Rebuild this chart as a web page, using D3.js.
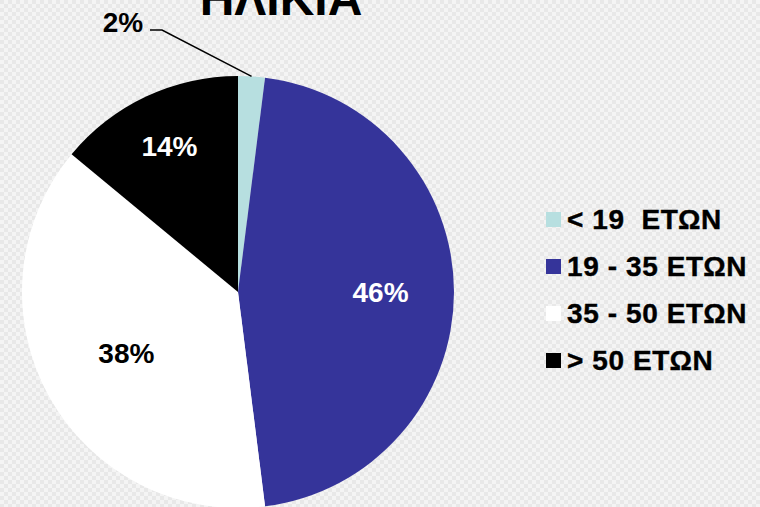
<!DOCTYPE html>
<html>
<head>
<meta charset="utf-8">
<script src="https://cdn.jsdelivr.net/npm/d3@7"></script>
<style>
  body { margin: 0; padding: 0; overflow: hidden; }
  svg { display: block; font-family: "Liberation Sans", Arial, sans-serif; font-weight: bold; }
</style>
</head>
<body>
<div id="chart"></div>
<script>
// data
var categories = ["< 19\u00a0 ΕΤΩΝ", "19 - 35 ΕΤΩΝ", "35 - 50 ΕΤΩΝ", "> 50 ΕΤΩΝ"];
var values = [2, 46, 38, 14];
var colors = ["#b7dfe0", "#35349a", "#ffffff", "#000000"];
var labelColors = ["#000000", "#ffffff", "#000000", "#ffffff"];
var title = "ΗΛΙΚΙΑ";

// layout: how far out (fraction of radius) each inside label sits
var labelRadius = [0, 0.66, 0.59, 0.745];

var width = 760, height = 507;
var cx = 238, cy = 292, radius = 216;

var svg = d3.select("#chart").append("svg")
    .attr("width", width)
    .attr("height", height);

// checkered background
var pat = svg.append("defs").append("pattern")
    .attr("id", "checker")
    .attr("width", 8).attr("height", 8)
    .attr("patternUnits", "userSpaceOnUse");
pat.append("rect").attr("width", 8).attr("height", 8).attr("fill", "#f4f4f4");
pat.append("rect").attr("width", 4).attr("height", 4).attr("fill", "#e8e8e8");
pat.append("rect").attr("x", 4).attr("y", 4).attr("width", 4).attr("height", 4).attr("fill", "#e8e8e8");

svg.append("rect")
    .attr("width", width).attr("height", height)
    .attr("fill", "url(#checker)");

var data = categories.map(function(c, i) {
  return {cat: c, value: values[i], color: colors[i], lc: labelColors[i], lr: labelRadius[i]};
});

var pie = d3.pie().sort(null).value(function(d) { return d.value; });
var arc = d3.arc().innerRadius(0).outerRadius(radius);
var arcs = pie(data);

var g = svg.append("g").attr("transform", "translate(" + cx + "," + cy + ")");

g.selectAll(".slice")
    .data(arcs).enter()
    .append("path")
    .attr("class", "slice")
    .attr("d", arc)
    .attr("fill", function(d) { return d.data.color; });

// labels inside the larger slices
g.selectAll(".plabel")
    .data(arcs.filter(function(d) { return d.data.value > 5; })).enter()
    .append("text")
    .attr("class", "plabel")
    .attr("transform", function(d) {
      var r = radius * d.data.lr;
      var p = d3.arc().innerRadius(r).outerRadius(r).centroid(d);
      return "translate(" + p[0] + "," + (p[1] + 10) + ")";
    })
    .attr("text-anchor", "middle")
    .attr("font-size", 28)
    .attr("fill", function(d) { return d.data.lc; })
    .text(function(d) { return d.data.value + "%"; });

// small slice label with leader line
var small = arcs[0];
var mid = (small.startAngle + small.endAngle) / 2;
var edge = [Math.sin(mid) * radius, -Math.cos(mid) * radius];
g.append("polyline")
    .attr("points", [[150 - cx, 30 - cy], [162 - cx, 30 - cy], edge].map(function(p) { return p.join(","); }).join(" "))
    .attr("fill", "none")
    .attr("stroke", "#000")
    .attr("stroke-width", 1.5);
g.append("text")
    .attr("x", 123 - cx).attr("y", 32 - cy)
    .attr("text-anchor", "middle")
    .attr("font-size", 28)
    .attr("fill", "#000")
    .text(small.data.value + "%");

// title, cut by top edge as in the original
svg.append("text")
    .attr("x", 281).attr("y", 15)
    .attr("text-anchor", "middle")
    .attr("font-size", 48)
    .attr("fill", "#000")
    .text(title);

// legend
var legend = svg.append("g").attr("transform", "translate(546,212)");
var rows = legend.selectAll(".leg")
    .data(data).enter()
    .append("g")
    .attr("class", "leg")
    .attr("transform", function(d, i) { return "translate(0," + (i * 47) + ")"; });
rows.append("rect")
    .attr("width", 15).attr("height", 15)
    .attr("fill", function(d) { return d.color; });
rows.append("text")
    .attr("x", 21).attr("y", 17)
    .attr("font-size", 28)
    .attr("letter-spacing", 0.6)
    .attr("fill", "#000")
    .attr("stroke", "#000")
    .attr("stroke-width", 0.4)
    .text(function(d) { return d.cat; });
</script>
</body>
</html>
